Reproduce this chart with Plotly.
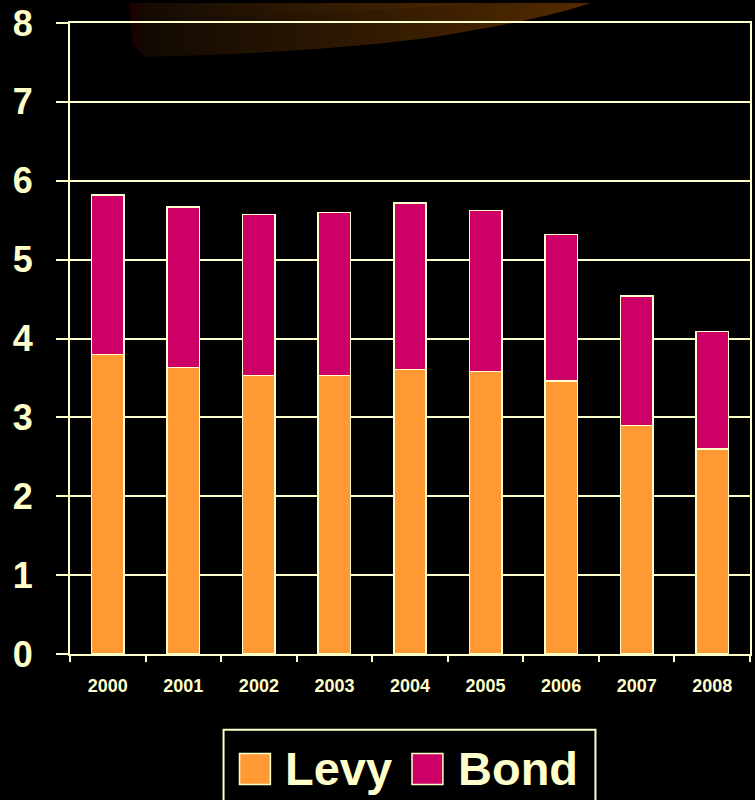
import plotly.graph_objects as go
import base64

years = ["2000", "2001", "2002", "2003", "2004", "2005", "2006", "2007", "2008"]
levy = [3.80, 3.63, 3.53, 3.53, 3.61, 3.58, 3.46, 2.90, 2.60]
bond = [2.02, 2.04, 2.04, 2.07, 2.11, 2.04, 1.86, 1.64, 1.49]
series_names = ["Levy", "Bond"]
series_colors = ["#FF9933", "#CC0066"]
y_ticks = [0, 1, 2, 3, 4, 5, 6, 7, 8]

CREAM = "#FFFFCC"
FONT = "Liberation Sans, Arial, sans-serif"

W, H = 755, 800
ML, MR, MT, MB = 70, 3, 20, 146
PW = W - ML - MR
PH = H - MT - MB


def px(x):
    return (x - ML) / PW


def py(y):
    return (H - MB - y) / PH


fig = go.Figure()
for name, vals, col in zip(series_names, [levy, bond], series_colors):
    fig.add_trace(go.Bar(
        x=years, y=vals, name=name,
        marker=dict(color=col, line=dict(color=CREAM, width=1.5)),
        width=0.43, showlegend=False,
    ))

# decorative swoosh as an svg image
svg = f'''<svg xmlns="http://www.w3.org/2000/svg" width="{W}" height="{H}" viewBox="0 0 {W} {H}">
<defs>
<linearGradient id="g" x1="130" y1="0" x2="600" y2="0" gradientUnits="userSpaceOnUse">
<stop offset="0" stop-color="#1a0000"/>
<stop offset="0.04" stop-color="#120a02"/>
<stop offset="0.35" stop-color="#261402"/>
<stop offset="0.75" stop-color="#422200"/>
<stop offset="1" stop-color="#562c00"/>
</linearGradient>
<linearGradient id="g2" x1="130" y1="0" x2="600" y2="0" gradientUnits="userSpaceOnUse">
<stop offset="0" stop-color="#1c0000"/>
<stop offset="0.04" stop-color="#160b02"/>
<stop offset="0.35" stop-color="#2c1802"/>
<stop offset="0.75" stop-color="#4c2800"/>
<stop offset="1" stop-color="#5e3000"/>
</linearGradient>
</defs>
<path d="M130,0 L132,40 L145,54 C260,52 400,42 470,28 C530,18 570,8 592,0 Z" fill="url(#g)"/>
<path d="M130,0 L131,14 C260,14 380,8 480,0 Z" fill="url(#g2)"/>
</svg>'''
src = "data:image/svg+xml;base64," + base64.b64encode(svg.encode()).decode()
fig.add_layout_image(dict(
    source=src, xref="paper", yref="paper",
    x=px(0), y=py(0), sizex=W / PW, sizey=H / PH,
    xanchor="left", yanchor="top", sizing="stretch", layer="below",
))

# legend (drawn manually for large symbols)
fig.add_shape(type="rect", xref="paper", yref="paper",
              x0=px(224), x1=px(597), y0=py(730), y1=py(812),
              line=dict(color=CREAM, width=2), fillcolor="rgba(0,0,0,0)")
leg_sq_x = [240, 413]
leg_tx_x = [284, 457]
for name, col, sx, tx in zip(series_names, series_colors, leg_sq_x, leg_tx_x):
    fig.add_shape(type="rect", xref="paper", yref="paper",
                  x0=px(sx), x1=px(sx + 31), y0=py(754), y1=py(785),
                  line=dict(color=CREAM, width=1.5), fillcolor=col)
    fig.add_annotation(x=px(tx), y=py(769), xref="paper", yref="paper",
                       text=name, showarrow=False, xanchor="left", yanchor="middle",
                       font=dict(family=FONT, size=47, color=CREAM, weight="bold"))

fig.update_layout(
    width=W, height=H, autosize=False,
    margin=dict(l=ML, r=MR, t=MT, b=MB, pad=0),
    paper_bgcolor="black", plot_bgcolor="rgba(0,0,0,0)",
    barmode="stack", bargap=0.57,
    showlegend=False,
    font=dict(family=FONT, color=CREAM),
)
fig.update_xaxes(
    type="category", range=[-0.5, 8.5],
    showline=True, linecolor=CREAM, linewidth=2, mirror=True,
    showgrid=False, ticks="outside", tickson="boundaries",
    ticklen=6, tickwidth=2, tickcolor=CREAM,
    tickfont=dict(family=FONT, size=18, color=CREAM, weight="bold"),
    ticklabelstandoff=14,
)
fig.update_yaxes(
    range=[0, 8], tickvals=y_ticks,
    showline=True, linecolor=CREAM, linewidth=2, mirror=True,
    showgrid=True, gridcolor=CREAM, gridwidth=2, zeroline=False,
    ticks="outside", ticklen=12, tickwidth=2, tickcolor=CREAM,
    tickfont=dict(family=FONT, size=36, color=CREAM, weight="bold"),
    ticklabelstandoff=16, ticklabeloverflow="allow",
)

fig.write_html("out.html")
